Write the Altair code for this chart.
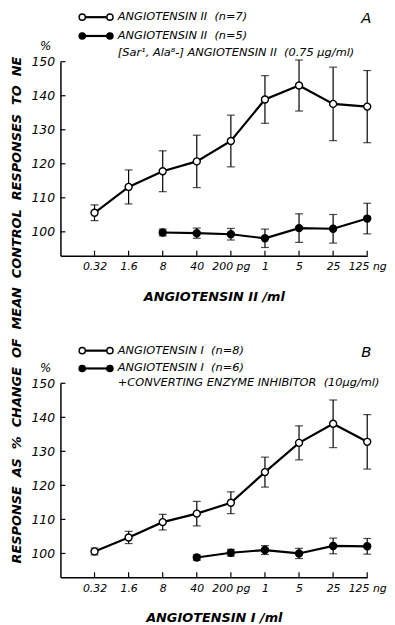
import altair as alt
import pandas as pd

# ---------------- data ----------------
doses = ["0.32", "1.6", "8", "40", "200 pg", "1", "5", "25", "125 ng"]

a_ctrl_mean = [105.6, 113.2, 117.8, 120.7, 126.7, 138.9, 143.0, 137.6, 136.8]
a_ctrl_err = [2.3, 5.0, 6.0, 7.7, 7.6, 7.0, 7.5, 10.8, 10.6]
a_blk_mean = [None, None, 99.8, 99.6, 99.3, 98.1, 101.1, 100.9, 103.9]
a_blk_err = [None, None, 1.0, 1.5, 1.7, 2.7, 4.2, 4.2, 4.5]

b_ctrl_mean = [100.6, 104.7, 109.2, 111.7, 114.9, 123.9, 132.5, 138.1, 132.8]
b_ctrl_err = [1.0, 1.8, 2.3, 3.6, 3.2, 4.4, 5.0, 7.0, 8.0]
b_inh_mean = [None, None, None, 98.8, 100.2, 101.0, 100.0, 102.2, 102.1]
b_inh_err = [None, None, None, 0.8, 1.0, 1.3, 1.5, 2.3, 2.3]

y_ticks = [100, 110, 120, 130, 140, 150]
y_domain = [93, 150]

NB = "\u00a0"
a_legend = ["ANGIOTENSIN II" + NB * 2 + "(n=7)", "ANGIOTENSIN II" + NB * 2 + "(n=5)",
            "[Sar\u00b9, Ala\u2078-] ANGIOTENSIN II" + NB * 2 + "(0.75 \u00b5g/ml)"]
b_legend = ["ANGIOTENSIN I" + NB * 2 + "(n=8)", "ANGIOTENSIN I" + NB * 2 + "(n=6)",
            "+CONVERTING ENZYME INHIBITOR" + NB * 2 + "(10\u00b5g/ml)"]
y_title = (NB * 2).join(["RESPONSE", "AS", "%", "CHANGE", "OF", "MEAN", "CONTROL",
                         "RESPONSES", "TO", "NE"])

FONT = "DejaVu Sans"
W, H = 310, 196
label_expr = "[''," + ",".join("'%s'" % d for d in doses) + "][datum.value]"


def make_df(means, errs, series):
    rows = []
    for i, (m, e) in enumerate(zip(means, errs)):
        if m is None:
            continue
        rows.append({"pos": i + 1, "mean": m, "lo": m - e, "hi": m + e, "series": series})
    return pd.DataFrame(rows)


def panel(ctrl_m, ctrl_e, trt_m, trt_e, legend, letter, xtitle, leg_y, pct_y):
    df = pd.concat([make_df(ctrl_m, ctrl_e, "ctrl"), make_df(trt_m, trt_e, "trt")],
                   ignore_index=True)
    caps = pd.concat([
        df[["pos", "hi", "series"]].rename(columns={"hi": "v"}),
        df[["pos", "lo", "series"]].rename(columns={"lo": "v"}),
    ], ignore_index=True)

    xs = alt.Scale(domain=[0, 9], nice=False, zero=False)
    ys = alt.Scale(domain=y_domain, nice=False, zero=False)
    x_axis = alt.Axis(
        values=list(range(1, 10)), labelExpr=label_expr, ticks=False, grid=False,
        domainColor="black", domainWidth=1.5, labelFont=FONT, labelFontStyle="italic",
        labelFontSize=11, labelColor="black", labelPadding=5, labelFlush=False,
        labelOverlap=False,
        title=xtitle, titleFont=FONT, titleFontStyle="italic", titleFontWeight="bold",
        titleFontSize=13, titleColor="black", titlePadding=19)
    y_axis = alt.Axis(values=y_ticks, ticks=False, grid=False, domainColor="black",
                      domainWidth=1.5, labelFont=FONT, labelFontStyle="italic",
                      labelFontSize=12.5, labelColor="black", labelPadding=6,
                      labelOverlap=False, title=None)

    X = alt.X("pos:Q", scale=xs, axis=x_axis)

    base = alt.Chart(df)
    rules = base.mark_rule(color="black", strokeWidth=1.2).encode(
        x=X, y=alt.Y("lo:Q", scale=ys, axis=y_axis), y2="hi:Q")
    capm = alt.Chart(caps).mark_tick(orient="horizontal", size=8, thickness=1.2,
                                     color="black").encode(
        x=X, y=alt.Y("v:Q", scale=ys, axis=y_axis))
    line = base.mark_line(color="black", strokeWidth=2.2).encode(
        x=X, y=alt.Y("mean:Q", scale=ys, axis=y_axis), detail="series:N")
    pts = base.mark_circle(size=50, stroke="black", strokeWidth=1.4, opacity=1).encode(
        x=X, y=alt.Y("mean:Q", scale=ys, axis=y_axis),
        fill=alt.Fill("series:N", scale=alt.Scale(domain=["ctrl", "trt"],
                                                  range=["white", "black"]), legend=None))

    xt = pd.DataFrame({"pos": list(range(1, 10))})
    xticks = alt.Chart(xt).mark_rule(color="black", strokeWidth=1.2).encode(
        x=X, y=alt.value(H), y2=alt.value(H - 5))
    yt = pd.DataFrame({"v": y_ticks})
    yticks = alt.Chart(yt).mark_rule(color="black", strokeWidth=1.2).encode(
        y=alt.Y("v:Q", scale=ys, axis=y_axis), x=alt.value(0), x2=alt.value(5))

    one = alt.Data(values=[{}])
    layers = [rules, capm, line, pts, xticks, yticks]
    # legend glyphs
    for k, fill in enumerate(["white", "black"]):
        yy = leg_y[k]
        layers.append(alt.Chart(one).mark_rule(color="black", strokeWidth=2.2).encode(
            x=alt.value(22), x2=alt.value(50), y=alt.value(yy)))
        for xx in (22, 50):
            layers.append(alt.Chart(one).mark_circle(size=40, stroke="black",
                                                     strokeWidth=1.4, fill=fill,
                                                     opacity=1).encode(
                x=alt.value(xx), y=alt.value(yy)))
    for k, txt in enumerate(legend):
        layers.append(alt.Chart(one).mark_text(
            text=txt, align="left", baseline="middle", font=FONT, fontStyle="italic",
            fontSize=11.5, color="black").encode(x=alt.value(58), y=alt.value(leg_y[k])))
    layers.append(alt.Chart(one).mark_text(
        text=letter, align="center", baseline="middle", font=FONT, fontStyle="italic",
        fontSize=15, color="black").encode(x=alt.value(309), y=alt.value(leg_y[0] + 1)))
    layers.append(alt.Chart(one).mark_text(
        text="%", align="center", baseline="middle", font=FONT, fontStyle="italic",
        fontSize=12, color="black").encode(x=alt.value(-15), y=alt.value(pct_y)))

    return alt.layer(*layers).properties(width=W, height=H)


pa = panel(a_ctrl_mean, a_ctrl_err, a_blk_mean, a_blk_err, a_legend, "A",
           "ANGIOTENSIN II /ml", [-45, -26, -9], -16)
pb = panel(b_ctrl_mean, b_ctrl_err, b_inh_mean, b_inh_err, b_legend, "B",
           "ANGIOTENSIN I /ml", [-33, -15, 0], -15)

chart = alt.vconcat(pa, pb, spacing=42).properties(
    padding={"left": 3, "top": 0, "right": 0, "bottom": 0},
    title=alt.TitleParams(text=y_title, orient="left", anchor="middle", font=FONT,
                          fontSize=13, fontWeight="bold", fontStyle="italic",
                          color="black", offset=7, dx=8),
).configure_view(stroke=None).configure_axis(labelOverlap=False, labelBound=False)

chart.save("out.html", embed_options={"renderer": "svg", "actions": False})
